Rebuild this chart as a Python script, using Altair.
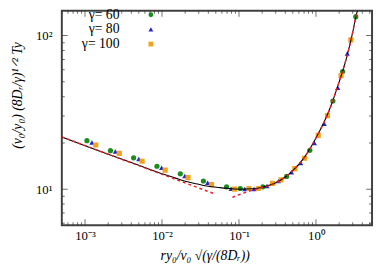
import altair as alt
import pandas as pd

# ---- data ----
series_names = ["γ= 60", "γ= 80", "γ= 100"]
series_colors = ["#1c8c1c", "#2424c8", "#f2a31b"]
series_shapes = ["circle", "triangle-up", "square"]

g60_x = [0.00106, 0.00214, 0.00428, 0.0086, 0.0173, 0.0345, 0.069, 0.104, 0.204, 0.416, 0.832, 1.66, 2.22, 3.29]
g60_y = [20.7, 17.8, 16.0, 14.1, 12.6, 11.3, 10.35, 10.1, 10.35, 12.1, 17.9, 37.5, 58.3, 132.8]

g80_x = [0.00123, 0.00248, 0.0050, 0.0099, 0.0198, 0.0392, 0.079, 0.119, 0.157, 0.231, 0.326, 0.481, 0.632, 0.953, 1.28, 1.92, 2.55]
g80_y = [20.1, 17.6, 15.7, 13.8, 12.2, 11.0, 10.06, 10.04, 10.04, 10.5, 11.3, 12.9, 14.8, 20.0, 26.7, 45.7, 76.4]

g100_x = [0.00138, 0.00279, 0.00552, 0.0110, 0.0218, 0.044, 0.088, 0.135, 0.178, 0.273, 0.352, 0.531, 0.711, 1.07, 1.41, 2.12, 2.84]
g100_y = [19.4, 17.1, 15.2, 13.3, 11.9, 10.7, 10.0, 10.1, 10.1, 10.9, 11.5, 13.6, 15.9, 22.4, 30.1, 55.0, 93.8]

curve_x = [0.0005, 0.001, 0.002, 0.005, 0.01, 0.015, 0.02, 0.03, 0.04, 0.055, 0.07, 0.1, 0.15, 0.2,
           0.3, 0.4, 0.5, 0.7, 1.0, 1.5, 2.0, 2.5, 3.0, 3.3, 3.73]
curve_y = [21.9, 19.2, 16.9, 14.3, 12.6, 11.8, 11.25, 10.75, 10.45, 10.25, 10.12, 10.0, 10.05, 10.3,
           11.0, 12.0, 13.2, 16.0, 21.5, 33.0, 50.0, 72.0, 105.0, 133.0, 163.0]

asym_left_x = [0.0005, 0.046]
asym_left_y = [21.9, 9.4]
asym_right_x = [0.082, 0.1, 0.14, 0.2, 0.3, 0.4, 0.5, 0.7, 1.0, 1.5, 2.0, 2.5, 3.0, 3.3, 3.73]
asym_right_y = [8.85, 9.2, 9.75, 10.25, 11.0, 12.0, 13.2, 16.0, 21.5, 33.0, 50.0, 72.0, 105.0, 133.0, 163.0]

x_tick_vals = [0.001, 0.01, 0.1, 1]
x_tick_labels = ["10⁻³", "10⁻²", "10⁻¹", "10⁰"]
y_tick_vals = [10, 100]
y_tick_labels = ["10¹", "10²"]
x_minor = [m * 10.0 ** e for e in range(-4, 1) for m in range(2, 10)]
y_minor = [6, 7, 8, 9, 20, 30, 40, 50, 60, 70, 80, 90]

# ---- tables ----
rows = []
for name, xs, ys in zip(series_names, [g60_x, g80_x, g100_x], [g60_y, g80_y, g100_y]):
    for a, b in zip(xs, ys):
        rows.append({"x": a, "y": b, "series": name})
pts_df = pd.DataFrame(rows)
curve_df = pd.DataFrame({"x": curve_x, "y": curve_y})
red_df = pd.concat([
    pd.DataFrame({"x": asym_left_x, "y": asym_left_y, "seg": "left"}),
    pd.DataFrame({"x": asym_right_x, "y": asym_right_y, "seg": "right"}),
])
x_minor_in = [v for v in x_minor if 5e-4 <= v <= 5.35]
xt_df = pd.DataFrame({"x": x_tick_vals + x_minor_in,
                      "len": [12] * len(x_tick_vals) + [6] * len(x_minor_in)})
yt_df = pd.DataFrame({"y": y_tick_vals + y_minor,
                      "len": [12] * len(y_tick_vals) + [6] * len(y_minor)})
leg_df = pd.DataFrame({"label": series_names, "series": series_names})

W, H = 317, 219
FONT = "Liberation Serif"


def chain(vals, labels):
    expr = "''"
    for v, l in reversed(list(zip(vals, labels))):
        expr = f"datum.value == {v} ? '{l}' : ({expr})"
    return expr


x_scale = alt.Scale(type="log", domain=[5e-4, 5.35], nice=False)
y_scale = alt.Scale(type="log", domain=[5.83, 145], nice=False)
color_scale = alt.Scale(domain=series_names, range=series_colors)
shape_scale = alt.Scale(domain=series_names, range=series_shapes)

x_axis = alt.Axis(values=x_tick_vals, labelExpr=chain(x_tick_vals, x_tick_labels),
                  ticks=False, domain=False, grid=False, labelPadding=5,
                  labelFont=FONT, labelFontSize=13, labelColor="#000",
                  titleFont=FONT, titleFontSize=14, titleFontStyle="italic",
                  titleFontWeight="normal", titlePadding=6, titleColor="#000", titleX=146)
y_axis = alt.Axis(values=y_tick_vals, labelExpr=chain(y_tick_vals, y_tick_labels),
                  ticks=False, domain=False, grid=False, labelPadding=10,
                  labelFont=FONT, labelFontSize=13, labelColor="#000",
                  titleFont=FONT, titleFontSize=14, titleFontStyle="italic",
                  titleFontWeight="normal", titleColor="#000", titleX=-38, titleY=86)

points = alt.Chart(pts_df).mark_point(filled=True, opacity=1, clip=True).encode(
    x=alt.X("x:Q", scale=x_scale, axis=x_axis, title="ry₀/v₀ √(γ/(8Dᵣ))"),
    y=alt.Y("y:Q", scale=y_scale, axis=y_axis, title="(v₀/y₀) (8Dᵣ/γ)¹ᐟ²  Ty"),
    color=alt.Color("series:N", scale=color_scale, legend=None),
    shape=alt.Shape("series:N", scale=shape_scale, legend=None),
    size=alt.value(28),
)

black = alt.Chart(curve_df).mark_line(color="black", strokeWidth=1.1, clip=True, interpolate="monotone").encode(
    x=alt.X("x:Q", scale=x_scale), y=alt.Y("y:Q", scale=y_scale))

red = alt.Chart(red_df).mark_line(color="#e8202a", strokeWidth=1.5, strokeDash=[3, 3], clip=True,
                                  interpolate="monotone").encode(
    x=alt.X("x:Q", scale=x_scale), y=alt.Y("y:Q", scale=y_scale), detail="seg:N")

tick_style = dict(color="#333333", thickness=1, clip=True)
xt_bottom = alt.Chart(xt_df).mark_tick(**tick_style).encode(
    x=alt.X("x:Q", scale=x_scale), y=alt.value(H), size=alt.Size("len:Q", scale=None))
xt_top = alt.Chart(xt_df).mark_tick(**tick_style).encode(
    x=alt.X("x:Q", scale=x_scale), y=alt.value(0), size=alt.Size("len:Q", scale=None))
yt_left = alt.Chart(yt_df).mark_tick(**tick_style).encode(
    y=alt.Y("y:Q", scale=y_scale), x=alt.value(0), size=alt.Size("len:Q", scale=None))
yt_right = alt.Chart(yt_df).mark_tick(**tick_style).encode(
    y=alt.Y("y:Q", scale=y_scale), x=alt.value(W), size=alt.Size("len:Q", scale=None))

data_layer = alt.layer(points, black, red, xt_bottom, xt_top, yt_left, yt_right)

leg_y = alt.Y("label:N", scale=alt.Scale(domain=series_names, range=[4, 34], padding=0), axis=None)
leg_text = alt.Chart(leg_df).mark_text(align="right", baseline="middle", font=FONT,
                                       fontSize=14, color="#000").encode(
    x=alt.value(59), y=leg_y, text="label:N")
leg_pts = alt.Chart(leg_df).mark_point(filled=True, opacity=1).encode(
    x=alt.value(91), y=leg_y,
    color=alt.Color("series:N", scale=color_scale, legend=None),
    shape=alt.Shape("series:N", scale=shape_scale, legend=None),
    size=alt.value(24))
legend_layer = alt.layer(leg_text, leg_pts)

chart = alt.layer(data_layer, legend_layer).resolve_scale(y="independent").properties(
    width=W, height=H,
    autosize=alt.AutoSizeParams(type="none"),
    padding={"left": 55, "top": 0, "right": 2, "bottom": 46},
    background="white",
).configure_view(stroke="#404040", strokeWidth=2)

chart.save("out.html", embed_options={"renderer": "svg", "actions": False})
